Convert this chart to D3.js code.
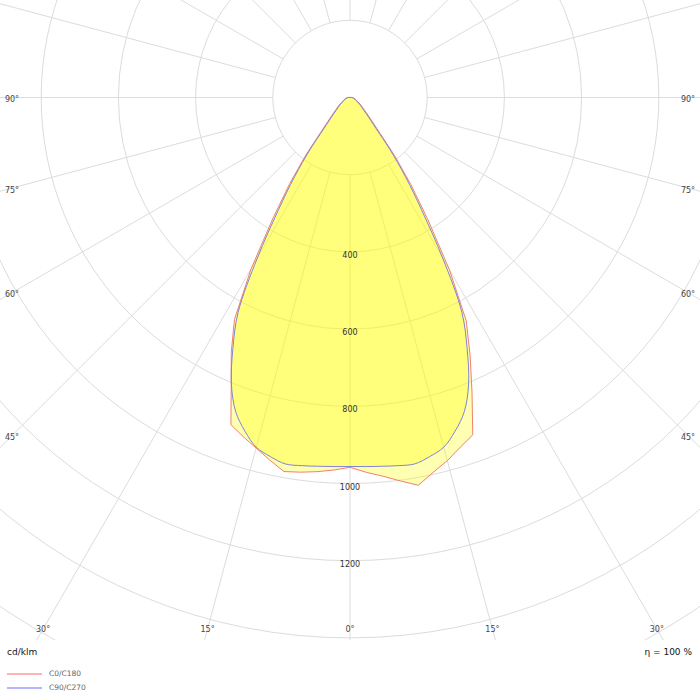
<!DOCTYPE html>
<html>
<head>
<meta charset="utf-8">
<script src="https://d3js.org/d3.v7.min.js"></script>
<style>
    body { margin: 0; background: #fff; }
    text { font-family: "DejaVu Sans", Verdana, sans-serif; }
</style>
</head>
<body>
<svg id="chart" width="700" height="700"></svg>
<script>
    // gamma angles (deg from nadir) and luminous intensity in cd/klm
    var gammas = [0, 2.5, 5, 7.5, 10, 12.5, 15, 17.5, 20, 22.5, 25, 27.5, 30, 32.5, 35, 37.5, 40, 45, 50, 55, 60, 70, 80, 90];
    var c0 = [958, 972, 985, 1002, 1020, 995, 974, 950, 930, 826, 736, 652, 515, 376, 274, 190, 121, 69, 46, 35, 25, 16, 10, 5];
    var c180 = [958, 966, 973, 979, 984, 962, 940, 921, 902, 804, 728, 648, 512, 373, 272, 188, 119, 68, 46, 35, 25, 16, 10, 5];
    var c90 = [956, 957, 959, 962, 964, 953, 938, 906, 866, 803, 718, 628, 480, 345, 250, 170, 105, 60, 40, 30, 21, 14, 9, 5];

    var rings = [200, 400, 600, 800, 1000, 1200, 1400, 1600];
    var ringLabels = [400, 600, 800, 1000, 1200];
    var angleTicks = [-90, -75, -60, -45, -30, -15, 0, 15, 30, 45, 60, 75, 90];

    var width = 700, plotH = 640;
    var cx = 350, cy = 97.5;

    var svg = d3.select('#chart');
    var r = d3.scaleLinear().domain([0, 200]).range([0, 77.2]);
    var rad = function(d) { return d * Math.PI / 180; };

    svg.append('clipPath').attr('id', 'clip')
        .append('rect').attr('width', width).attr('height', plotH);

    var g = svg.append('g').attr('clip-path', 'url(#clip)')
        .append('g').attr('transform', 'translate(' + cx + ',' + cy + ')');

    // grid
    g.selectAll('circle.ring')
        .data(rings)
        .enter()
        .append('circle')
        .attr('class', 'ring')
        .attr('r', function(d) { return r(d); })
        .attr('fill', 'none')
        .attr('stroke', '#dcdcdc');

    g.selectAll('line.spoke')
        .data(d3.range(0, 360, 15))
        .enter()
        .append('line')
        .attr('class', 'spoke')
        .attr('x1', function(d) { return r(200) * Math.sin(rad(d)); })
        .attr('y1', function(d) { return r(200) * Math.cos(rad(d)); })
        .attr('x2', function(d) { return r(2000) * Math.sin(rad(d)); })
        .attr('y2', function(d) { return r(2000) * Math.cos(rad(d)); })
        .attr('stroke', '#dcdcdc');

    // build closed curves: left half (C180 / C270) then right half (C0 / C90)
    function shape(left, right) {
        var pts = [];
        for (var i = gammas.length - 1; i >= 0; i--) pts.push([Math.PI + rad(gammas[i]), r(left[i])]);
        for (var j = 1; j < gammas.length; j++) pts.push([Math.PI - rad(gammas[j]), r(right[j])]);
        return pts;
    }

    var redLine = d3.lineRadial().angle(function(d) { return d[0]; }).radius(function(d) { return d[1]; })
        .curve(d3.curveLinearClosed);
    var blueLine = d3.lineRadial().angle(function(d) { return d[0]; }).radius(function(d) { return d[1]; })
        .curve(d3.curveCatmullRomClosed);

    var series = [
        { pts: shape(c180, c0), line: redLine, color: '#f2806c' },
        { pts: shape(c90, c90), line: blueLine, color: '#8282d8' }
    ];

    g.selectAll('path.fill')
        .data(series)
        .enter()
        .append('path')
        .attr('class', 'fill')
        .attr('d', function(d) { return d.line(d.pts); })
        .attr('fill', '#ffff00')
        .attr('fill-opacity', 0.3)
        .attr('stroke', 'none');

    g.selectAll('path.edge')
        .data(series)
        .enter()
        .append('path')
        .attr('class', 'edge')
        .attr('d', function(d) { return d.line(d.pts); })
        .attr('fill', 'none')
        .attr('stroke', function(d) { return d.color; })
        .attr('stroke-width', 1);

    // ring values
    g.selectAll('text.ringlab')
        .data(ringLabels)
        .enter()
        .append('text')
        .attr('class', 'ringlab')
        .attr('x', 0)
        .attr('y', function(d) { return r(d) + 3.5; })
        .attr('text-anchor', 'middle')
        .attr('dominant-baseline', 'middle')
        .attr('font-size', '8px')
        .attr('fill', '#333')
        .text(function(d) { return d; });

    // angle labels along the frame
    var edgeX = 338, edgeY = 629 - cy;
    svg.selectAll('text.anglab')
        .data(angleTicks)
        .enter()
        .append('text')
        .attr('class', 'anglab')
        .attr('x', function(d) {
            var t = Math.tan(rad(Math.abs(d)));
            var x = edgeY * t <= edgeX ? edgeY * t : edgeX;
            return cx + (d < 0 ? -x : x);
        })
        .attr('y', function(d) {
            var t = Math.tan(rad(Math.abs(d)));
            return edgeY * t <= edgeX ? 629 : cy + 2 + edgeX / t;
        })
        .attr('text-anchor', 'middle')
        .attr('dominant-baseline', 'middle')
        .attr('font-size', '8px')
        .attr('fill', '#444')
        .text(function(d) { return Math.abs(d) + '°'; });

    svg.append('text')
        .attr('x', 7).attr('y', 652)
        .attr('dominant-baseline', 'middle')
        .attr('font-size', '9px')
        .attr('fill', '#111')
        .text('cd/klm');

    svg.append('text')
        .attr('x', 692).attr('y', 652)
        .attr('text-anchor', 'end')
        .attr('dominant-baseline', 'middle')
        .attr('font-size', '9px')
        .attr('fill', '#111')
        .text('η = 100 %');

    // legend
    var legend = [
        { name: 'C0/C180', color: '#ffb4b4' },
        { name: 'C90/C270', color: '#b4b4ff' }
    ];
    var lg = svg.selectAll('g.legend')
        .data(legend)
        .enter()
        .append('g')
        .attr('class', 'legend')
        .attr('transform', function(d, i) { return 'translate(0,' + (674 + i * 14) + ')'; });
    lg.append('line')
        .attr('x1', 7).attr('x2', 42)
        .attr('stroke', function(d) { return d.color; })
        .attr('stroke-width', 2);
    lg.append('text')
        .attr('x', 49)
        .attr('dominant-baseline', 'middle')
        .attr('font-size', '7.5px')
        .attr('fill', '#666')
        .text(function(d) { return d.name; });
</script>
</body>
</html>
